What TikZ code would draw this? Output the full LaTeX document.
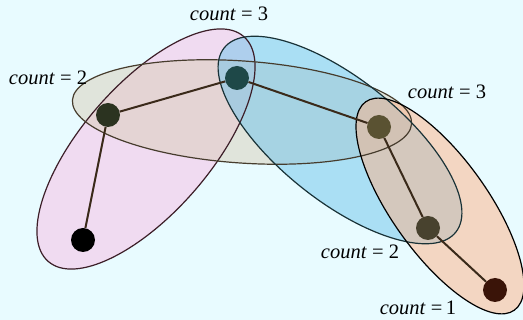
\documentclass[tikz,border=0pt]{standalone}
\usepackage{fontspec}
\setmainfont{Liberation Serif}
\begin{document}
\begin{tikzpicture}[x=1pt,y=-1pt,
  setfill/.style={fill opacity=0.5},
  setline/.style={line width=1.2pt},
  vtx/.style={circle,inner sep=0pt,minimum size=24pt},
  edge/.style={line width=2pt,draw=edgec},
  lbl/.style={font=\fontsize{20.5}{22}\selectfont,inner sep=0pt}]
\definecolor{bg}{RGB}{232,251,255}
\definecolor{pinkf}{RGB}{248,188,228}
\definecolor{bluef}{RGB}{110,196,235}
\definecolor{orangef}{RGB}{255,178,135}
\definecolor{greyf}{RGB}{218,206,185}
\definecolor{edgec}{RGB}{58,42,26}
\fill[bg] (0,0) rectangle (523,320);
\useasboundingbox (0,0) rectangle (523,320);
% fills
\fill[pinkf,setfill,rotate around={49:(146,149)}] (146,149) ellipse [x radius=149, y radius=64];
\fill[greyf,setfill,rotate around={-4:(242,112)}] (242,112) ellipse [x radius=170, y radius=51];
\fill[bluef,setfill,rotate around={-38.5:(340,140)}] (340,140) ellipse [x radius=148, y radius=61];
\fill[orangef,setfill,rotate around={-54.5:(440,206)}] (440,206) ellipse [x radius=128, y radius=48];
% outlines
\draw[setline,draw={rgb,255:red,60;green,30;blue,40},rotate around={49:(146,149)}] (146,149) ellipse [x radius=149, y radius=64];
\draw[setline,draw={rgb,255:red,70;green,60;blue,45},rotate around={-4:(242,112)}] (242,112) ellipse [x radius=170, y radius=51];
\draw[setline,draw={rgb,255:red,25;green,50;blue,55},rotate around={-38.5:(340,140)}] (340,140) ellipse [x radius=148, y radius=61];
\draw[setline,draw=black,rotate around={-54.5:(440,206)}] (440,206) ellipse [x radius=128, y radius=48];
% vertices
\node[vtx,fill=black] (n1) at (83,240) {};
\node[vtx,fill={rgb,255:red,43;green,51;blue,32}] (n2) at (108,115) {};
\node[vtx,fill={rgb,255:red,30;green,72;blue,72}] (n3) at (237,78) {};
\node[vtx,fill={rgb,255:red,90;green,82;blue,50}] (n4) at (379,127) {};
\node[vtx,fill={rgb,255:red,72;green,66;blue,46}] (n5) at (428,228) {};
\node[vtx,fill={rgb,255:red,58;green,20;blue,8}] (n6) at (495,290) {};
\draw[edge] (n1) -- (n2);
\draw[edge] (n2) -- (n3);
\draw[edge] (n3) -- (n4);
\draw[edge] (n4) -- (n5);
\draw[edge] (n5) -- (n6);
% labels
\node[lbl] (l2) at (48,78) {\textit{count} = 2};
\node[lbl] (l3) at (229,14) {\textit{count} = 3};
\node[lbl] (l4) at (447,92) {\textit{count} = 3};
\node[lbl] (l5) at (360,252) {\textit{count} = 2};
\node[lbl] (l6) at (418,308) {\textit{count} =\,1};
\end{tikzpicture}
\end{document}
